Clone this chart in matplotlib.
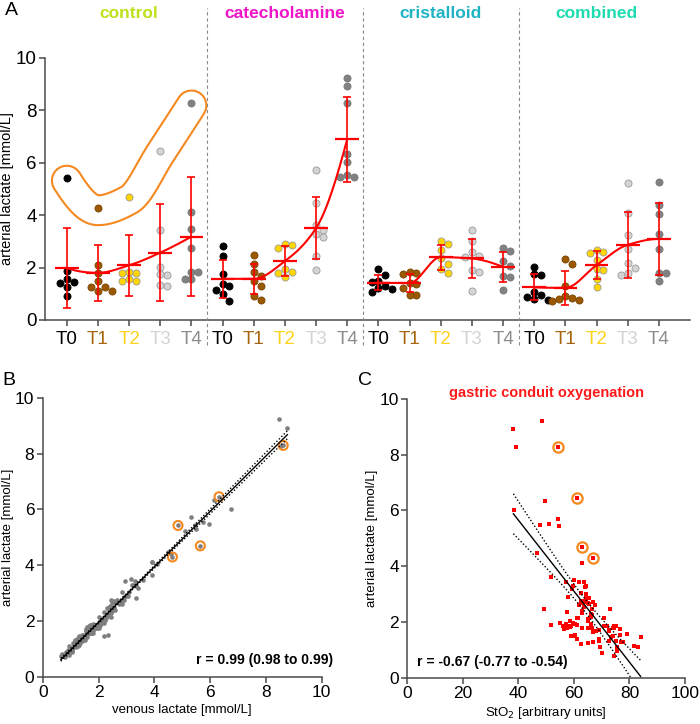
import numpy as np
import matplotlib
matplotlib.use('Agg')
import matplotlib.pyplot as plt
import matplotlib.patheffects as pe
import matplotlib.transforms as mtransforms

plt.rcParams['font.family'] = ['Liberation Sans', 'DejaVu Sans']

# ---- data ----
groups = ['control', 'catecholamine', 'cristalloid', 'combined']
group_colors = ['#bde21c', '#ee14c8', '#1fb3c4', '#1fdcb0']
timepoints = ['T0', 'T1', 'T2', 'T3', 'T4']
tp_face = ['#000000', '#9a5800', '#ffd600', '#d4d4d4', '#818181']
tp_edge = ['#000000', '#7a4600', '#9a9a9a', '#9a9a9a', '#777777']
tp_label = ['#000000', '#a8650f', '#ffd21a', '#d3d3d3', '#8c8c8c']

# arterial lactate [mmol/L], one list per time point
art_control = [[5.42, 1.87, 1.58, 1.45, 1.42, 1.25, 0.90],
               [4.29, 2.09, 1.79, 1.49, 1.27, 1.27, 1.10, 1.10],
               [4.69, 1.80, 1.85, 1.78, 1.47, 1.55, 1.47],
               [6.45, 3.43, 2.03, 1.70, 1.76, 1.30, 1.33],
               [8.29, 4.12, 3.49, 2.76, 1.84, 1.84, 1.58, 1.55]]
art_catechol = [[2.83, 2.45, 1.75, 1.39, 1.30, 1.14, 0.98, 0.72],
                [2.47, 2.13, 1.68, 1.84, 1.49, 1.28, 0.90, 0.77],
                [2.91, 2.85, 2.76, 1.95, 1.84, 1.78, 1.64],
                [5.71, 4.47, 3.63, 3.45, 3.28, 3.18, 2.45, 1.90],
                [9.22, 8.93, 8.27, 6.34, 6.02, 5.53, 5.47, 5.45]]
art_cristal = [[1.93, 1.72, 1.50, 1.46, 1.30, 1.22, 1.05, 1.20],
               [1.76, 1.80, 1.84, 1.40, 1.38, 1.21, 0.95, 0.97],
               [3.03, 2.89, 2.67, 2.35, 2.13, 1.93, 1.81],
               [3.43, 3.02, 2.61, 2.46, 2.40, 1.85, 1.91, 1.10],
               [2.76, 2.65, 2.26, 2.05, 1.68, 1.66, 1.15]]
art_combined = [[2.03, 1.76, 1.70, 1.08, 0.95, 0.88, 0.78, 0.80],
                [2.32, 2.13, 1.30, 0.92, 0.80, 0.76, 0.85, 0.74],
                [2.67, 2.61, 2.55, 2.29, 1.93, 1.90, 1.55, 1.25],
                [5.24, 4.10, 3.24, 2.70, 2.19, 1.97, 1.72, 1.80],
                [5.28, 4.39, 4.03, 3.28, 2.70, 1.81, 1.78, 1.50]]

# venous lactate [mmol/L], same order as arterial
ven_control = [[4.85, 1.95, 1.70, 2.20, 1.60, 1.20, 1.05],
               [4.65, 2.20, 1.65, 1.60, 1.40, 1.15, 1.25, 0.95],
               [5.65, 1.85, 2.05, 1.60, 1.55, 1.75, 1.30],
               [6.32, 2.95, 2.25, 1.80, 2.00, 1.45, 1.20],
               [8.62, 3.90, 3.15, 2.65, 1.70, 2.05, 1.65, 1.80]]
ven_catechol = [[3.35, 2.30, 1.90, 1.30, 1.50, 1.25, 1.05, 0.80],
                [2.55, 2.00, 1.75, 1.95, 2.35, 1.35, 0.95, 0.70],
                [3.05, 2.90, 2.45, 2.10, 1.75, 1.90, 1.55],
                [5.32, 4.48, 3.90, 3.60, 3.25, 3.40, 2.55, 2.05],
                [8.47, 8.77, 8.55, 6.14, 6.75, 5.76, 5.96, 5.45]]
ven_cristal = [[2.00, 1.60, 1.40, 1.55, 1.15, 1.30, 1.10, 1.35],
               [1.85, 1.65, 2.00, 1.25, 1.50, 1.10, 1.05, 0.90],
               [2.85, 3.00, 2.55, 2.50, 2.45, 2.05, 1.90],
               [3.30, 3.10, 2.85, 2.35, 2.60, 1.75, 2.20, 1.20],
               [2.90, 2.50, 2.35, 2.25, 1.80, 1.55, 1.30]]
ven_combined = [[2.10, 1.95, 1.55, 1.20, 1.00, 0.85, 0.95, 0.70],
                [2.20, 2.30, 1.40, 1.05, 0.90, 0.80, 0.95, 0.65],
                [2.60, 2.75, 2.40, 2.45, 2.05, 1.80, 1.70, 1.35],
                [5.10, 3.90, 3.35, 2.85, 2.30, 2.10, 1.85, 1.70],
                [5.50, 4.60, 4.10, 3.20, 2.55, 1.95, 1.65, 1.45]]

# gastric conduit StO2 [arbitrary units], nan = not measured
nan = np.nan
sto2_control = [[nan] * 7,
                [67.0, 65.0, 57.5, 60.5, 77.5, 67.0, 69.5, 75.5],
                [63.0, 57.0, 74.5, 65.0, 84.0, 76.5, 73.5],
                [61.2, 62.0, 65.0, 72.5, 56.5, 69.0, 75.0],
                [54.4, 63.0, 60.0, 62.5, 59.0, 71.0, 79.0, 60.5]]
sto2_catechol = [[nan] * 8,
                 [73.0, 61.5, 68.0, 57.5, 74.0, 77.0, 70.0, 74.5],
                 [58.0, 65.5, 64.5, 59.5, 56.0, 66.5, 67.0],
                 [54.2, 46.8, 51.7, 57.1, 59.6, 59.2, 49.3, 51.6],
                 [48.6, 38.2, 39.0, 49.6, 38.6, 51.0, 47.8, 54.7]]
sto2_cristal = [[nan] * 8,
                [76.5, 63.0, 75.0, 69.0, 61.0, 62.5, nan, 75.5],
                [62.5, 64.5, 63.0, 57.5, 61.0, 66.0, 58.5],
                [63.5, 64.5, 67.5, 66.5, 63.0, 72.0, 60.5, 82.9],
                [63.5, 65.5, 66.5, 58.5, 72.5, 68.0, 81.6]]
sto2_combined = [[nan] * 8,
                 [63.0, 71.0, 72.5, nan, nan, nan, nan, nan],
                 [65.0, 62.0, 63.5, 66.0, 57.0, 61.0, 76.5, 65.0],
                 [nan, nan, 64.0, 64.0, 66.0, 55.0, 69.0, 74.0],
                 [nan, nan, nan, 64.5, 67.0, 58.0, 74.5, 59.0]]

r_text_b = 'r = 0.99 (0.98 to 0.99)'
r_text_c = 'r = -0.67 (-0.77 to -0.54)'

art_all = [art_control, art_catechol, art_cristal, art_combined]
ven_all = [ven_control, ven_catechol, ven_cristal, ven_combined]
sto2_all = [sto2_control, sto2_catechol, sto2_cristal, sto2_combined]

ORANGE = '#f5891f'
AXC = '#4a4a4a'


def pchip(x, y, n=40):
    x = np.asarray(x, float)
    y = np.asarray(y, float)
    h = np.diff(x)
    d = np.diff(y) / h
    m = np.zeros_like(y)
    for k in range(1, len(y) - 1):
        if d[k - 1] * d[k] > 0:
            w1 = 2 * h[k] + h[k - 1]
            w2 = h[k] + 2 * h[k - 1]
            m[k] = (w1 + w2) / (w1 / d[k - 1] + w2 / d[k])

    def end(h0, h1, d0, d1):
        v = ((2 * h0 + h1) * d0 - h0 * d1) / (h0 + h1)
        if np.sign(v) != np.sign(d0):
            v = 0.0
        elif np.sign(d0) != np.sign(d1) and abs(v) > abs(3 * d0):
            v = 3 * d0
        return v
    m[0] = end(h[0], h[1], d[0], d[1])
    m[-1] = end(h[-1], h[-2], d[-1], d[-2])
    xs, ys = [], []
    for k in range(len(h)):
        t = np.linspace(0, 1, n)
        h00 = 2 * t**3 - 3 * t**2 + 1
        h10 = t**3 - 2 * t**2 + t
        h01 = -2 * t**3 + 3 * t**2
        h11 = t**3 - t**2
        xs.append(x[k] + t * h[k])
        ys.append(h00 * y[k] + h10 * h[k] * m[k] + h01 * y[k + 1] + h11 * h[k] * m[k + 1])
    return np.concatenate(xs), np.concatenate(ys)


def swarm(vals, dx=0.22, dy=0.27):
    vals = np.asarray(vals, float)
    order = np.argsort(-vals)
    offs = np.zeros(len(vals))
    placed = []
    for i in order:
        o = 0.0
        for k in [0, 1, -1, 2, -2, 3, -3]:
            o = k * dx
            if all(((o - offs[j]) / dx) ** 2 + ((vals[i] - vals[j]) / dy) ** 2 >= 0.95
                   for j in placed):
                break
        offs[i] = o
        placed.append(i)
    return offs


def style_axes(ax, fs):
    for s in ['top', 'right']:
        ax.spines[s].set_visible(False)
    for s in ['left', 'bottom']:
        ax.spines[s].set_color(AXC)
        ax.spines[s].set_linewidth(1.1)
    ax.tick_params(direction='out', length=4, width=1.1, color=AXC, labelsize=fs, pad=2)


fig = plt.figure(figsize=(7, 7.24), dpi=100)

# ---------------- panel A ----------------
axA = fig.add_axes([45 / 700, 1 - 320 / 724, 645 / 700, 262 / 724])
style_axes(axA, 13.5)
axA.set_xlim(-0.7, 20.0)
axA.set_ylim(0, 10)
axA.set_yticks(range(0, 11, 2))
axA.set_ylabel('arterial lactate [mmol/L]', fontsize=10.5, labelpad=1)

for g, arts in enumerate(art_all):
    base = g * 5
    means = []
    for t, vals in enumerate(arts):
        pos = base + t
        offs = swarm(vals)
        axA.scatter(pos + offs, vals, s=26, color=tp_face[t], edgecolors=tp_edge[t],
                    linewidths=0.6, zorder=3)
        mu = np.mean(vals)
        sd = np.std(vals, ddof=1)
        means.append(mu)
        axA.errorbar(pos, mu, yerr=sd, fmt='none', ecolor='red', elinewidth=1.2,
                     capsize=3, capthick=1.2, zorder=4)
        axA.hlines(mu, pos - 0.38, pos + 0.38, color='red', lw=1.6, zorder=4)
    cx, cy = pchip(np.arange(base, base + 5), means)
    axA.plot(cx, cy, color='red', lw=1.5, zorder=4)

    # group title
    axA.text(base + 2, 1.168, groups[g], transform=mtransforms.blended_transform_factory(
        axA.transData, axA.transAxes), ha='center', va='center', fontsize=12.5,
        fontweight='bold', color=group_colors[g])

# separators
trA = mtransforms.blended_transform_factory(axA.transData, axA.transAxes)
for xs in [4.5, 9.5, 14.5]:
    axA.plot([xs, xs], [-0.095, 1.19], transform=trA, clip_on=False, color='#8a8a8a',
             lw=0.8, ls=(0, (3, 2.5)), zorder=5)

# orange outline round the control outliers
out_y = [vals[0] for vals in art_control]
lx, ly = pchip(np.arange(5), out_y)
axA.plot(lx, ly - 0.1, color='white', lw=20, solid_capstyle='round', solid_joinstyle='round',
         zorder=1, path_effects=[pe.Stroke(linewidth=23, foreground=ORANGE,
                                           capstyle='round', joinstyle='round'),
                                 pe.Normal()])

axA.set_xticks(range(20))
axA.set_xticklabels(timepoints * 4)
for lbl, c in zip(axA.get_xticklabels(), tp_label * 4):
    lbl.set_color(c)
axA.tick_params(axis='x', pad=4)

fig.text(5 / 700, 1 - 2 / 724, 'A', fontsize=14, va='top', ha='left')

# flatten for panels B and C
art_flat = np.concatenate([np.concatenate(a) for a in art_all])
ven_flat = np.concatenate([np.concatenate(v) for v in ven_all])
sto_flat = np.concatenate([np.concatenate(s) for s in sto2_all])
out_art = np.array([v[0] for v in art_control])
out_ven = np.array([v[0] for v in ven_control])
out_sto = np.array([v[0] for v in sto2_control])


def fit_band(x, y, xgrid):
    n = len(x)
    b, a = np.polyfit(x, y, 1)
    res = y - (a + b * x)
    s = np.sqrt(np.sum(res**2) / (n - 2))
    sxx = np.sum((x - x.mean())**2)
    se = s * np.sqrt(1 / n + (xgrid - x.mean())**2 / sxx)
    yfit = a + b * xgrid
    return yfit, yfit - 1.98 * se, yfit + 1.98 * se


# ---------------- panel B ----------------
axB = fig.add_axes([42.7 / 700, 1 - 676.7 / 724, 279 / 700, 279 / 724])
style_axes(axB, 12.5)
axB.set_xlim(0, 10)
axB.set_ylim(0, 10)
axB.set_xticks(range(0, 11, 2))
axB.set_yticks(range(0, 11, 2))
axB.set_xlabel('venous lactate [mmol/L]', fontsize=9.5, labelpad=3)
axB.set_ylabel('arterial lactate [mmol/L]', fontsize=9.5, labelpad=1)

axB.scatter(ven_flat, art_flat, s=11, color='#7f7f7f', lw=0, zorder=2)
axB.scatter(out_ven, out_art, s=42, facecolors='none', edgecolors=ORANGE, lw=1.5, zorder=3)
xg = np.linspace(ven_flat.min(), ven_flat.max(), 100)
yf, lo, hi = fit_band(ven_flat, art_flat, xg)
axB.plot(xg, yf, color='black', lw=1.0, zorder=4)
axB.plot(xg, lo, color='black', lw=1.0, ls=(0, (1, 1.5)), zorder=4)
axB.plot(xg, hi, color='black', lw=1.0, ls=(0, (1, 1.5)), zorder=4)
axB.text(1.04, 0.06, r_text_b, transform=axB.transAxes, ha='right', va='center',
         fontsize=10, fontweight='bold', clip_on=False)
fig.text(2 / 700, 1 - 372 / 724, 'B', fontsize=14, va='top', ha='left')

# ---------------- panel C ----------------
axC = fig.add_axes([407.3 / 700, 1 - 677.7 / 724, 277.7 / 700, 278.7 / 724])
style_axes(axC, 12.5)
axC.set_xlim(0, 100)
axC.set_ylim(0, 10)
axC.set_xticks(range(0, 101, 20))
axC.set_yticks(range(0, 11, 2))
axC.set_xlabel('StO$_2$ [arbitrary units]', fontsize=9.5, labelpad=3)
axC.set_ylabel('arterial lactate [mmol/L]', fontsize=9.5, labelpad=1)

ok = ~np.isnan(sto_flat)
xc, yc = sto_flat[ok], art_flat[ok]
okc = ~np.isnan(out_sto)
axC.scatter(out_sto[okc], out_art[okc], s=55, facecolors='white', edgecolors=ORANGE,
            lw=1.6, zorder=3)
axC.scatter(xc, yc, s=9, marker='s', color='#ff0000', lw=0, zorder=4)
xg = np.linspace(xc.min(), xc.max(), 100)
yf, lo, hi = fit_band(xc, yc, xg)
axC.plot(xg, yf, color='black', lw=1.0, zorder=5)
axC.plot(xg, lo, color='black', lw=1.0, ls=(0, (1, 1.5)), zorder=5)
axC.plot(xg, hi, color='black', lw=1.0, ls=(0, (1, 1.5)), zorder=5)
axC.text(50, 10.2, 'gastric conduit oxygenation', ha='center', va='center',
         fontsize=10.5, fontweight='bold', color='#ff1a1a', clip_on=False)
axC.text(0.034, 0.057, r_text_c, transform=axC.transAxes, ha='left', va='center',
         fontsize=10, fontweight='bold')
fig.text(358 / 700, 1 - 372 / 724, 'C', fontsize=14, va='top', ha='left')

fig.savefig('out.png', dpi=100)
